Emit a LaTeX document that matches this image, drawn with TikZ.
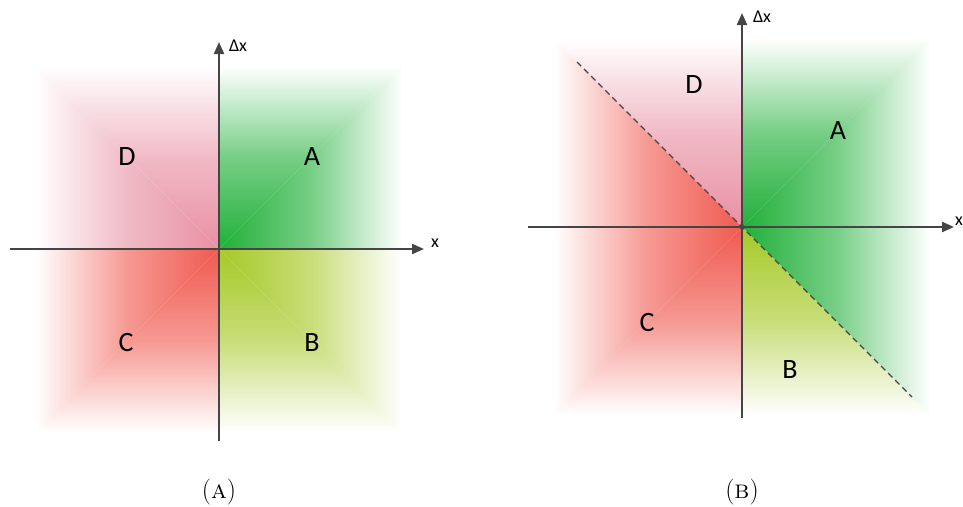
\documentclass[tikz,border=0pt]{standalone}
\usepackage{fontspec}
\newfontfamily\labfont{Carlito}
\usetikzlibrary{arrows.meta}
\definecolor{cgreen}{HTML}{22B03A}
\definecolor{cyel}{HTML}{A6C927}
\definecolor{cred}{HTML}{F05A50}
\definecolor{cpink}{HTML}{E890A3}
\definecolor{axisgray}{HTML}{454545}
\tikzset{
  axisline/.style={line width=2.2pt, draw=axisgray, -{Triangle[length=12pt,width=10pt]}},
  quadlabel/.style={font=\labfont\fontsize{28}{30}\selectfont, inner sep=0pt},
  axislabel/.style={font=\labfont\fontsize{18}{20}\selectfont, inner sep=0pt},
  caption/.style={font=\fontsize{26}{28}\selectfont, inner sep=0pt},
  divider/.style={line width=1.3pt, draw=axisgray, dash pattern=on 6pt off 4pt},
}
\newcommand\upoct[3]{\shade[top color=white,bottom color=#1,middle color=#1!62,draw=none] (0,0) -- #2 -- #3 -- cycle;}
\newcommand\downoct[3]{\shade[top color=#1,bottom color=white,middle color=#1!62,draw=none] (0,0) -- #2 -- #3 -- cycle;}
\newcommand\rightoct[3]{\shade[left color=#1,right color=white,middle color=#1!62,draw=none] (0,0) -- #2 -- #3 -- cycle;}
\newcommand\leftoct[3]{\shade[left color=white,right color=#1,middle color=#1!62,draw=none] (0,0) -- #2 -- #3 -- cycle;}
\begin{document}
\begin{tikzpicture}[x=1pt,y=-1pt]
\useasboundingbox (0,0) rectangle (963,506);
% ---------- Panel A ----------
\begin{scope}[shift={(219,249)}]
  \def\L{183}
  \upoct{cgreen}{(0,-\L)}{(\L,-\L)}
  \rightoct{cgreen}{(\L,-\L)}{(\L,0)}
  \rightoct{cyel}{(\L,0)}{(\L,\L)}
  \downoct{cyel}{(\L,\L)}{(0,\L)}
  \downoct{cred}{(0,\L)}{(-\L,\L)}
  \leftoct{cred}{(-\L,\L)}{(-\L,0)}
  \leftoct{cpink}{(-\L,0)}{(-\L,-\L)}
  \upoct{cpink}{(-\L,-\L)}{(0,-\L)}
  \coordinate (axl) at (-209,0);
  \coordinate (axr) at (205,0);
  \coordinate (ayb) at (0,192);
  \coordinate (ayt) at (0,-207);
  \draw[axisline] (axl) -- (axr);
  \draw[axisline] (ayb) -- (ayt);
  \node[axislabel] (xa) at (216,-6) {x};
  \node[axislabel] (dxa) at (19,-203) {Δx};
  \node[quadlabel] (la) at (93,-92) {A};
  \node[quadlabel] (lb) at (93,94) {B};
  \node[quadlabel] (lc) at (-93,94) {C};
  \node[quadlabel] (ld) at (-92,-92) {D};
  \node[caption] (capa) at (0,243) {(\textsc{a})};
\end{scope}
% ---------- Panel B ----------
\begin{scope}[shift={(742,227)}]
  \def\L{188}
  \upoct{cgreen}{(0,-\L)}{(\L,-\L)}
  \rightoct{cgreen}{(\L,-\L)}{(\L,0)}
  \rightoct{cgreen}{(\L,0)}{(\L,\L)}
  \downoct{cyel}{(\L,\L)}{(0,\L)}
  \downoct{cred}{(0,\L)}{(-\L,\L)}
  \leftoct{cred}{(-\L,\L)}{(-\L,0)}
  \leftoct{cred}{(-\L,0)}{(-\L,-\L)}
  \upoct{cpink}{(-\L,-\L)}{(0,-\L)}
  \coordinate (bxl) at (-214,0);
  \coordinate (bxr) at (212,0);
  \coordinate (byb) at (0,191);
  \coordinate (byt) at (0,-214);
  \coordinate (dtl) at (-165,-165);
  \coordinate (dbr) at (170,170);
  \draw[divider] (dtl) -- (dbr);
  \draw[axisline] (bxl) -- (bxr);
  \draw[axisline] (byb) -- (byt);
  \node[draw=axisgray, line width=0.6pt, circle, minimum size=5pt, inner sep=0pt] (ob) at (0,0) {};
  \node[axislabel] (xb) at (217,-6) {x};
  \node[axislabel] (dxb) at (20,-210) {Δx};
  \node[quadlabel] (lab) at (96,-96) {A};
  \node[quadlabel] (lbb) at (48,143) {B};
  \node[quadlabel] (lcb) at (-95,96) {C};
  \node[quadlabel] (ldb) at (-48,-142) {D};
  \node[caption] (capb) at (0,265) {(\textsc{b})};
\end{scope}
\end{tikzpicture}
\end{document}
